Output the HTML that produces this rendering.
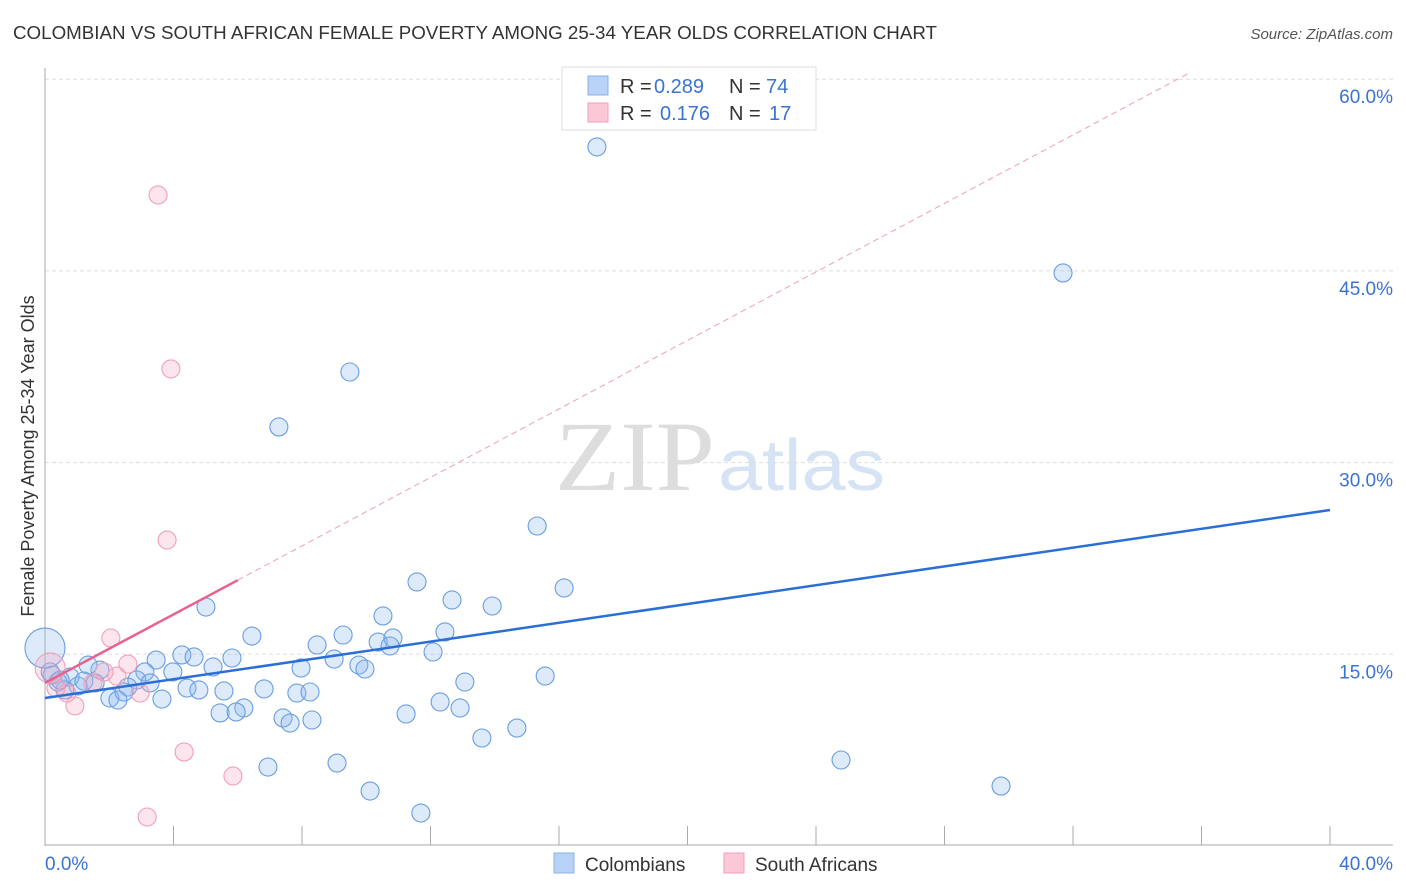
<!DOCTYPE html>
<html><head><meta charset="utf-8"><style>
body{margin:0;background:#fff;font-family:"Liberation Sans",sans-serif;}
#wrap{position:relative;width:1406px;height:892px;overflow:hidden;}
</style></head><body>
<div id="wrap">
<svg id="svg" width="1406" height="892" xmlns="http://www.w3.org/2000/svg">
<text x="13" y="39" font-size="18" fill="#333" textLength="924" lengthAdjust="spacingAndGlyphs">COLOMBIAN VS SOUTH AFRICAN FEMALE POVERTY AMONG 25-34 YEAR OLDS CORRELATION CHART</text>
<text x="1393" y="39" font-size="15" fill="#555" font-style="italic" text-anchor="end">Source: ZipAtlas.com</text>
<text x="555" y="490" font-size="100" fill="#ddd" textLength="160" lengthAdjust="spacingAndGlyphs" font-family="Liberation Serif,serif">ZIP</text>
<text x="718" y="490" font-size="72" fill="#d5e3f5" textLength="167" lengthAdjust="spacingAndGlyphs">atlas</text>
<g id="grid"></g>
<g id="marks"></g>
<text transform="translate(34,456) rotate(-90)" font-size="18" fill="#333" text-anchor="middle">Female Poverty Among 25-34 Year Olds</text>
<g>
<rect x="562" y="67" width="254" height="63" fill="#fff" stroke="#ddd"/>
<rect x="588" y="76" width="20" height="19" fill="#b8d3f5" stroke="#8ab0e6"/>
<rect x="588" y="103" width="20" height="19" fill="#fac8d6" stroke="#f0a0b8"/>
<text x="620" y="93" font-size="20" fill="#333">R =</text>
<text x="654" y="93" font-size="20" fill="#3a73d0">0.289</text>
<text x="729" y="93" font-size="20" fill="#333">N =</text>
<text x="766" y="93" font-size="20" fill="#3a73d0">74</text>
<text x="620" y="120" font-size="20" fill="#333">R =</text>
<text x="660" y="120" font-size="20" fill="#3a73d0">0.176</text>
<text x="729" y="120" font-size="20" fill="#333">N =</text>
<text x="769" y="120" font-size="20" fill="#3a73d0">17</text>
</g>
<g>
<rect x="554" y="853" width="20" height="20" fill="#b8d3f5" stroke="#8ab0e6"/>
<text x="585" y="871" font-size="19" fill="#333">Colombians</text>
<rect x="724" y="853" width="20" height="20" fill="#fac8d6" stroke="#f0a0b8"/>
<text x="755" y="871" font-size="19" fill="#333">South Africans</text>
</g>
</svg>
</div>
<script>
const yTicks=[15,30,45,60];
const yTickLabels=["15.0%","30.0%","45.0%","60.0%"];
const xTicks=[0,4,8,12,16,20,24,28,32,36,40];
const colX=[17.18,31.69,9.49,7.28,15.32,16.16,11.58,12.67,13.92,5.01,10.52,6.44,9.28,8.47,10.37,10.83,10.74,12.45,12.08,4.26,3.46,4.64,5.82,5.23,7.97,9.77,9.96,9.0,15.57,13.07,3.11,3.98,2.86,3.27,2.58,4.42,4.79,5.57,6.82,7.84,8.25,12.30,12.92,11.24,3.64,2.02,2.27,2.46,6.19,5.45,5.95,7.41,7.63,8.31,14.69,13.60,24.78,6.94,9.09,10.12,29.76,11.70,1.71,1.34,0.78,0.40,1.03,0.62,1.56,0.22,0.16,0.47,1.21,0];
const colY=[54.7,44.84,37.09,32.79,25.04,20.19,20.66,19.25,18.78,18.70,18.0,16.43,16.51,15.73,15.96,16.28,15.65,16.75,15.18,14.95,14.55,14.79,14.71,14.01,13.93,14.16,13.85,14.63,13.30,12.83,13.62,13.62,12.99,12.76,12.44,12.36,12.21,12.13,12.29,11.97,12.05,11.27,10.80,10.33,11.50,11.58,11.42,12.05,10.80,10.41,10.49,10.02,9.62,9.86,9.23,8.45,6.73,6.18,6.49,4.30,4.69,2.58,13.77,14.16,13.22,12.83,12.52,12.21,12.76,13.38,13.62,12.99,12.91,15.49];
const saX=[3.52,3.92,3.80,2.05,2.58,2.24,1.84,2.96,1.49,0.93,0.68,0.34,4.33,5.85,3.18,0.16];
const saY=[50.94,37.33,23.94,16.28,14.24,13.30,13.62,11.97,12.76,10.96,11.97,12.36,7.36,5.48,2.27,13.93];
const colTrend=[11.58,26.29];
const saTrend=[12.76,1.34];
const X=v=>45+v/40*1285, Y=v=>846-v/15*191.7;
const NS="http://www.w3.org/2000/svg";
function mk(p,t,a){const e=document.createElementNS(NS,t);for(const k in a)e.setAttribute(k,a[k]);p.appendChild(e);return e;}
const g=document.getElementById('grid'), m=document.getElementById('marks');
yTicks.forEach((t,i)=>{const l=mk(g,'line',{x1:45,x2:1393,y1:Y(t),y2:Y(t),stroke:'#ddd','stroke-dasharray':'4,3'});


const tx=mk(g,'text',{x:1393,y:Y(t)+24,'font-size':19,fill:'#3a73d0','text-anchor':'end'});tx.textContent=yTickLabels[i];

});
const ax=mk(g,'line',{x1:45,x2:45,y1:68,y2:846,stroke:'#aaa'});


const bx=mk(g,'line',{x1:45,x2:1393,y1:845,y2:845,stroke:'#aaa'});


xTicks.forEach(t=>{const l=mk(g,'line',{x1:X(t),x2:X(t),y1:826,y2:845,stroke:'#aaa'});

});
const x0=mk(g,'text',{x:45,y:870,'font-size':19,fill:'#3a73d0'});x0.textContent='0.0%';


const x1=mk(g,'text',{x:1393,y:870,'font-size':19,fill:'#3a73d0','text-anchor':'end'});x1.textContent='40.0%';


colX.forEach((x,i)=>{const c=mk(m,'circle',{cx:X(x),cy:Y(colY[i]),r:i==colX.length-1?20:9,fill:'rgba(140,185,240,0.3)',stroke:'#6a9de0','stroke-width':1.1});

});
saX.forEach((x,i)=>{const c=mk(m,'circle',{cx:X(x),cy:Y(saY[i]),r:i==saX.length-1?15:9,fill:'rgba(248,170,195,0.3)',stroke:'#f0a0b8','stroke-width':1.1});

});
const tl=mk(m,'line',{x1:X(0),y1:Y(colTrend[0]),x2:X(40),y2:Y(colTrend[1]),stroke:'#2a6fd6','stroke-width':2.5});


const pe=35.6;
const pd=mk(m,'line',{x1:X(6),y1:Y(saTrend[0]+saTrend[1]*6),x2:X(pe),y2:Y(saTrend[0]+saTrend[1]*pe),stroke:'#eaa0b6','stroke-width':1,'stroke-dasharray':'6,4'});


const pt=mk(m,'line',{x1:X(0),y1:Y(saTrend[0]),x2:X(6),y2:Y(saTrend[0]+saTrend[1]*6),stroke:'#e8628e','stroke-width':2.5});


</script>
</body></html>
